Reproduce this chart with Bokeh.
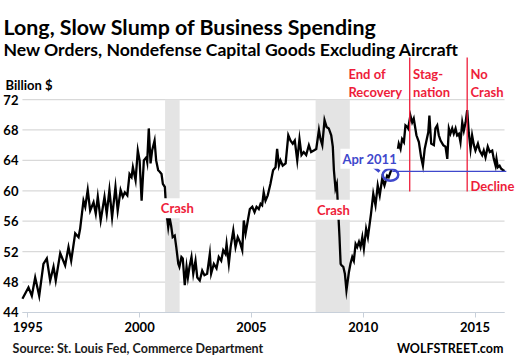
from bokeh.plotting import figure
from bokeh.models import Range1d, FixedTicker, Label
from bokeh.embed import file_html
from bokeh.resources import INLINE

# ---- data ----
years = [1994.76, 1995.03, 1995.18, 1995.33, 1995.51, 1995.70, 1995.85, 1996.00, 1996.15, 1996.25,
         1996.45, 1996.67, 1996.82, 1996.94, 1997.12, 1997.27, 1997.34, 1997.49, 1997.57, 1997.68,
         1997.79, 1997.94, 1998.04, 1998.13, 1998.26, 1998.43, 1998.53, 1998.65, 1998.77, 1998.92,
         1999.02, 1999.15, 1999.25, 1999.34, 1999.45, 1999.55, 1999.64, 1999.70, 1999.82, 1999.92,
         2000.00, 2000.09, 2000.19, 2000.30, 2000.34, 2000.41, 2000.49, 2000.56, 2000.67, 2000.74,
         2000.83, 2000.90, 2000.98, 2001.04, 2001.13, 2001.19, 2001.28, 2001.34, 2001.41, 2001.48,
         2001.57, 2001.64, 2001.73, 2001.78, 2001.87, 2001.93, 2002.02, 2002.10, 2002.16, 2002.23,
         2002.32, 2002.40, 2002.50, 2002.58, 2002.69, 2002.80, 2002.90, 2003.02, 2003.14, 2003.20,
         2003.32, 2003.44, 2003.54, 2003.65, 2003.74, 2003.84, 2003.89, 2003.99, 2004.07, 2004.19,
         2004.29, 2004.39, 2004.48, 2004.59, 2004.66, 2004.74, 2004.84, 2004.93, 2005.04, 2005.14,
         2005.23, 2005.33, 2005.41, 2005.48, 2005.55, 2005.63, 2005.73, 2005.85, 2005.97, 2006.08,
         2006.15, 2006.23, 2006.30, 2006.40, 2006.53, 2006.65, 2006.75, 2006.85, 2006.94, 2007.05,
         2007.15, 2007.24, 2007.34, 2007.45, 2007.57, 2007.67, 2007.79, 2007.90, 2008.02, 2008.09,
         2008.17, 2008.27, 2008.36, 2008.46, 2008.57, 2008.64, 2008.69, 2008.76, 2008.82, 2008.88,
         2008.94, 2008.99, 2009.03, 2009.11, 2009.18, 2009.25, 2009.36, 2009.43, 2009.51, 2009.58,
         2009.66, 2009.73, 2009.81, 2009.88, 2009.96, 2010.03, 2010.13, 2010.21, 2010.35, 2010.45,
         2010.55, 2010.65, 2010.74, 2010.85, 2010.95, 2011.07, 2011.14, 2011.25, 2011.34, 2011.44,
         2011.49, 2011.59, 2011.67, 2011.74, 2011.82, 2011.89, 2011.97, 2012.01, 2012.11, 2012.19,
         2012.26, 2012.38, 2012.49, 2012.59, 2012.67, 2012.75, 2012.83, 2012.91, 2012.96, 2013.04,
         2013.16, 2013.23, 2013.31, 2013.38, 2013.46, 2013.58, 2013.68, 2013.76, 2013.83, 2013.90,
         2013.98, 2014.05, 2014.13, 2014.20, 2014.28, 2014.35, 2014.43, 2014.50, 2014.58, 2014.65,
         2014.72, 2014.80, 2014.87, 2014.95, 2015.02, 2015.13, 2015.21, 2015.32, 2015.39, 2015.47,
         2015.57, 2015.66, 2015.77, 2015.84, 2015.92, 2015.96, 2016.02, 2016.10, 2016.17, 2016.26,
         2016.32]
orders = [45.8, 47.3, 46.2, 48.6, 46.2, 50.4, 51.1, 48.2, 50.0, 48.2,
          51.8, 50.2, 52.6, 50.8, 54.4, 53.9, 55.0, 58.7, 57.9, 60.1,
          57.4, 58.5, 57.0, 59.2, 56.1, 59.2, 57.0, 60.1, 56.5, 60.5,
          57.4, 60.1, 59.2, 59.8, 59.4, 62.2, 61.8, 63.1, 61.4, 65.3,
          64.0, 58.7, 64.0, 64.4, 63.8, 68.2, 63.6, 65.3, 66.6, 64.0,
          62.7, 62.5, 62.2, 60.9, 60.5, 57.4, 55.2, 56.5, 55.4, 53.9,
          54.1, 52.6, 50.4, 50.0, 51.3, 51.1, 47.6, 50.0, 48.6, 50.0,
          51.3, 49.1, 50.8, 48.6, 48.2, 49.5, 48.9, 49.1, 51.7, 49.1,
          50.4, 49.8, 51.3, 50.8, 52.2, 51.7, 53.0, 50.4, 52.6, 54.8,
          52.6, 53.9, 53.3, 52.2, 56.1, 54.4, 56.1, 57.6, 57.9, 57.2,
          57.9, 57.6, 58.3, 58.1, 59.8, 58.7, 59.4, 60.9, 62.7, 63.1,
          65.5, 63.3, 64.0, 63.3, 63.6, 67.3, 66.6, 66.2, 66.6, 64.0,
          66.8, 64.7, 65.1, 64.7, 66.0, 65.1, 65.3, 65.5, 68.0, 66.8,
          66.0, 69.3, 68.4, 68.2, 67.3, 65.8, 62.7, 60.3, 60.9, 57.4,
          53.9, 50.4, 50.2, 50.0, 49.1, 46.9, 49.3, 50.4, 51.3, 50.8,
          53.0, 52.6, 53.3, 52.6, 53.9, 52.4, 55.0, 53.9, 57.0, 59.6,
          58.1, 60.7, 59.4, 61.6, 60.7, 62.0, 61.8, 62.7, 63.8, 64.9,
          64.4, 66.2, 65.5, 66.8, 66.4, 68.6, 68.4, 68.2, 69.9, 69.0,
          69.5, 67.3, 66.4, 64.4, 63.3, 65.5, 66.6, 67.7, 69.9, 66.2,
          66.0, 68.2, 68.6, 67.3, 66.6, 66.0, 65.8, 64.2, 68.2, 67.5,
          68.2, 67.5, 68.2, 67.3, 67.5, 66.4, 69.0, 67.9, 69.0, 70.6,
          67.7, 65.5, 67.3, 66.0, 65.3, 66.2, 65.3, 64.7, 65.3, 64.4,
          65.8, 65.1, 65.3, 64.2, 63.3, 64.2, 63.1, 63.3, 62.9, 62.7,
          62.6]

recession_start = [2001.14, 2007.87]
recession_end = [2001.79, 2009.40]
y_ticks = [44, 48, 52, 56, 60, 64, 68, 72]
x_ticks = [1995, 2000, 2005, 2010, 2015]
phase_lines = [2012.08, 2014.65]        # end of recovery / no crash markers
apr_2011 = 2011.22
decline_level = 62.55

# plotting window (years / billions) – axes drawn at fixed locations inside it
X_START, X_END = 1994.76, 2016.32
Y_MIN, Y_MAX = 44, 72

FONT = "Lato"
RED = "#EE1D3A"
BLUE = "#3F48CC"

p = figure(width=518, height=359, output_backend="svg", toolbar_location=None,
           x_range=Range1d(1993.779, 2016.945), y_range=Range1d(37.82, 85.02),
           min_border_left=0, min_border_right=0, min_border_top=0, min_border_bottom=0)
p.title.visible = False
p.outline_line_color = None
p.background_fill_color = "white"
p.border_fill_color = "white"
p.xgrid.visible = False
p.ygrid.visible = False

# horizontal grid lines at the y ticks
p.segment(x0=[X_START] * len(y_ticks), y0=y_ticks, x1=[X_END] * len(y_ticks), y1=y_ticks,
          line_color="#D9D9D9", line_width=1.2)

# recession bands
p.quad(left=recession_start, right=recession_end, bottom=Y_MIN, top=Y_MAX,
       fill_color="#E4E4E4", line_color=None)

# series
p.line(years, orders, line_color="black", line_width=2.3, line_join="miter")

# phase lines
for xl in phase_lines:
    p.segment(x0=[xl], y0=[59.9], x1=[xl], y1=[77.53], line_color=RED, line_width=1.3)

# decline level + Apr 2011 marker
p.segment(x0=[2011.30], y0=[decline_level], x1=[2016.40], y1=[decline_level],
          line_color=BLUE, line_width=1.3)
p.ellipse(x=[apr_2011], y=[62.1], width=0.70, height=1.54,
          fill_color=None, line_color=BLUE, line_width=2.5)
p.segment(x0=[2010.18], y0=[63.85], x1=[2010.73], y1=[62.53],
          line_color=BLUE, line_width=3)

# axes at fixed locations
p.xaxis.fixed_location = Y_MIN
p.xaxis.bounds = (X_START, X_END)
p.yaxis.fixed_location = X_START
p.yaxis.bounds = (Y_MIN, Y_MAX)
p.xaxis.ticker = FixedTicker(ticks=x_ticks)
p.yaxis.ticker = FixedTicker(ticks=y_ticks)
p.xaxis.axis_line_color = "#C8D0DA"
p.xaxis.axis_line_width = 1.2
p.xaxis.major_tick_line_color = "#C8D0DA"
p.xaxis.major_tick_out = 5
p.xaxis.major_tick_in = 0
p.xaxis.minor_tick_line_color = None
p.xaxis.major_label_standoff = 5
p.yaxis.axis_line_color = None
p.yaxis.major_tick_line_color = None
p.yaxis.minor_tick_line_color = None
p.yaxis.major_tick_out = 0
p.yaxis.major_tick_in = 0
p.yaxis.major_label_standoff = 4
for ax in (p.xaxis, p.yaxis):
    ax.major_label_text_font = FONT
    ax.major_label_text_font_style = "bold"
    ax.major_label_text_font_size = "13px"
    ax.major_label_text_color = "black"


def lab(x, y, text, size="13px", color="black", align="left", bg=None):
    l = Label(x=x, y=y, text=text, text_font=FONT, text_font_style="bold",
              text_font_size=size, text_color=color, text_align=align,
              text_baseline="alphabetic")
    if bg is not None:
        l.background_fill_color = bg
        l.padding = 2
    p.add_layout(l)


lab(1993.91, 81.60, "Long, Slow Slump of Business Spending", size="21.4px")
lab(1993.91, 78.54, "New Orders, Nondefense Capital Goods Excluding Aircraft", size="17.6px")
lab(1994.00, 73.91, "Billion $", size="13px")

lab(2009.34, 75.38, "End of", color=RED)
lab(2009.34, 72.99, "Recovery", color=RED)
lab(2012.23, 75.38, "Stag-", color=RED)
lab(2012.23, 72.99, "nation", color=RED)
lab(2014.80, 75.38, "No", color=RED)
lab(2014.80, 72.99, "Crash", color=RED)
lab(2014.80, 60.57, "Decline", color=RED)
lab(2000.86, 57.71, "Crash", color=RED, bg="white")
lab(2007.84, 57.50, "Crash", color=RED, bg="white")
lab(2008.98, 64.20, "Apr 2011", color=BLUE, bg="white")

lab(1994.32, 39.23, "Source: St. Louis Fed, Commerce Department", size="12.5px", color="#1a1a1a")
lab(2016.27, 39.23, "WOLFSTREET.com", size="12.5px", align="right")

open("out.html", "w").write(file_html(p, INLINE))
